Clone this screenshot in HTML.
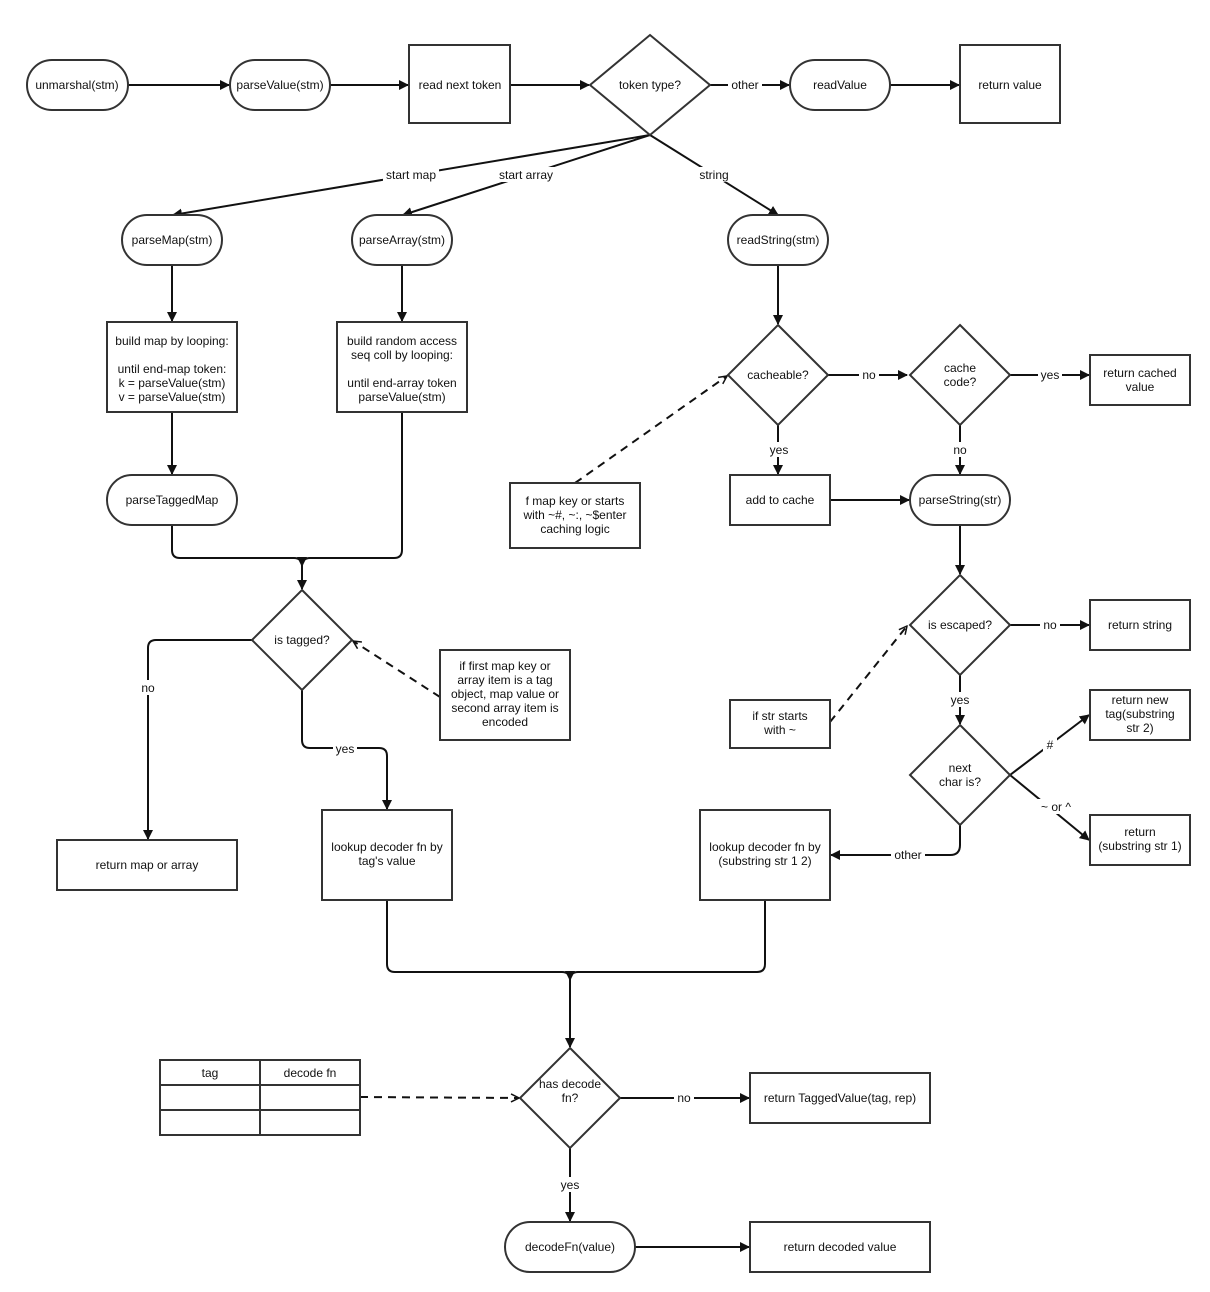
<!DOCTYPE html>
<html><head><meta charset="utf-8"><style>
html,body{margin:0;padding:0;background:#fff;}
svg{display:block;}
text{font-family:"Liberation Sans",Arial,sans-serif;font-size:12px;fill:#111;text-anchor:middle;}
.s{fill:#fff;stroke:#333;stroke-width:2;}
.l{fill:none;stroke:#111;stroke-width:2;}
.d{fill:none;stroke:#111;stroke-width:2;stroke-dasharray:8,6;}
.bg{fill:#fff;}
</style></head><body>
<svg width="1210" height="1292" viewBox="0 0 1210 1292" xmlns="http://www.w3.org/2000/svg">
<defs>
<marker id="a" markerWidth="10" markerHeight="10" refX="9" refY="5" orient="auto" markerUnits="userSpaceOnUse" viewBox="0 0 10 10"><path d="M0,0 L10,5 L0,10 z" fill="#111"/></marker>
<marker id="o" markerWidth="10" markerHeight="10" refX="9" refY="5" orient="auto" markerUnits="userSpaceOnUse" viewBox="0 0 10 10"><path d="M1,1 L9,5 L1,9" fill="none" stroke="#111" stroke-width="1.5"/></marker>
</defs>

<!-- edges -->
<g class="l" marker-end="url(#a)">
<path d="M128,85 H229"/>
<path d="M330,85 H408"/>
<path d="M510,85 H589"/>
<path d="M710,85 H789"/>
<path d="M890,85 H959"/>
<path d="M650,135 L173,215"/>
<path d="M650,135 L403,215"/>
<path d="M650,135 L778,215"/>
<path d="M778,265 V324"/>
<path d="M828,375 H907"/>
<path d="M1010,375 H1089"/>
<path d="M778,425 V474"/>
<path d="M960,425 V474"/>
<path d="M830,500 H909"/>
<path d="M960,525 V574"/>
<path d="M1010,625 H1089"/>
<path d="M960,675 V724"/>
<path d="M1010,775 L1089,715"/>
<path d="M1010,775 L1089,840"/>
<path d="M960,825 V845 Q960,855 950,855 H831"/>
<path d="M172,265 V321"/>
<path d="M402,265 V321"/>
<path d="M172,412 V474"/>
<path d="M172,525 V550 Q172,558 180,558 H294 Q302,558 302,566 V589"/>
<path d="M402,412 V550 Q402,558 394,558 H310 Q302,558 302,566"/>
<path d="M252,640 H156 Q148,640 148,648 V839"/>
<path d="M302,690 V740 Q302,748 310,748 H379 Q387,748 387,756 V809"/>
<path d="M387,900 V964 Q387,972 395,972 H562 Q570,972 570,980 V1047"/>
<path d="M765,900 V964 Q765,972 757,972 H578 Q570,972 570,980"/>
<path d="M620,1098 H749"/>
<path d="M570,1148 V1221"/>
<path d="M635,1247 H749"/>
</g>
<g class="d" marker-end="url(#o)">
<path d="M575,483 L727,376"/>
<path d="M830,722 L907,626"/>
<path d="M440,697 L353,641"/>
<path d="M360,1097 L519,1098"/>
</g>

<!-- edge labels -->
<g>
<rect class="bg" x="728" y="77" width="34" height="15"/><text x="745" y="89">other</text>
<rect class="bg" x="383" y="167" width="56" height="15"/><text x="411" y="179">start map</text>
<rect class="bg" x="496" y="167" width="60" height="15"/><text x="526" y="179">start array</text>
<rect class="bg" x="697" y="167" width="34" height="15"/><text x="714" y="179">string</text>
<rect class="bg" x="859" y="367" width="20" height="15"/><text x="869" y="379">no</text>
<rect class="bg" x="1038" y="367" width="24" height="15"/><text x="1050" y="379">yes</text>
<rect class="bg" x="767" y="442" width="24" height="15"/><text x="779" y="454">yes</text>
<rect class="bg" x="950" y="442" width="20" height="15"/><text x="960" y="454">no</text>
<rect class="bg" x="1040" y="617" width="20" height="15"/><text x="1050" y="629">no</text>
<rect class="bg" x="948" y="692" width="24" height="15"/><text x="960" y="704">yes</text>
<rect class="bg" x="1043" y="737" width="14" height="15"/><text x="1050" y="749">#</text>
<rect class="bg" x="1036" y="799" width="40" height="15"/><text x="1056" y="811">~ or ^</text>
<rect class="bg" x="891" y="847" width="34" height="15"/><text x="908" y="859">other</text>
<rect class="bg" x="138" y="680" width="20" height="15"/><text x="148" y="692">no</text>
<rect class="bg" x="333" y="741" width="24" height="15"/><text x="345" y="753">yes</text>
<rect class="bg" x="674" y="1090" width="20" height="15"/><text x="684" y="1102">no</text>
<rect class="bg" x="558" y="1177" width="24" height="15"/><text x="570" y="1189">yes</text>
</g>

<!-- nodes -->
<rect class="s" x="27" y="60" width="101" height="50" rx="25"/><text x="77" y="89">unmarshal(stm)</text>
<rect class="s" x="230" y="60" width="100" height="50" rx="25"/><text x="280" y="89">parseValue(stm)</text>
<rect class="s" x="409" y="45" width="101" height="78"/><text x="460" y="89">read next token</text>
<polygon class="s" points="650,35 710,85 650,135 590,85"/><text x="650" y="89">token type?</text>
<rect class="s" x="790" y="60" width="100" height="50" rx="25"/><text x="840" y="89">readValue</text>
<rect class="s" x="960" y="45" width="100" height="78"/><text x="1010" y="89">return value</text>

<rect class="s" x="122" y="215" width="100" height="50" rx="25"/><text x="172" y="244">parseMap(stm)</text>
<rect class="s" x="352" y="215" width="100" height="50" rx="25"/><text x="402" y="244">parseArray(stm)</text>
<rect class="s" x="728" y="215" width="100" height="50" rx="25"/><text x="778" y="244">readString(stm)</text>

<rect class="s" x="107" y="322" width="130" height="90"/>
<text x="172" y="345">build map by looping:</text><text x="172" y="373">until end-map token:</text><text x="172" y="387">k = parseValue(stm)</text><text x="172" y="401">v = parseValue(stm)</text>
<rect class="s" x="337" y="322" width="130" height="90"/>
<text x="402" y="345">build random access</text><text x="402" y="359">seq coll by looping:</text><text x="402" y="387">until end-array token</text><text x="402" y="401">parseValue(stm)</text>

<polygon class="s" points="778,325 828,375 778,425 728,375"/><text x="778" y="379">cacheable?</text>
<polygon class="s" points="960,325 1010,375 960,425 910,375"/><text x="960" y="372">cache</text><text x="960" y="386">code?</text>
<rect class="s" x="1090" y="355" width="100" height="50"/><text x="1140" y="377">return cached</text><text x="1140" y="391">value</text>

<rect class="s" x="107" y="475" width="130" height="50" rx="25"/><text x="172" y="504">parseTaggedMap</text>
<rect class="s" x="730" y="475" width="100" height="50"/><text x="780" y="504">add to cache</text>
<rect class="s" x="910" y="475" width="100" height="50" rx="25"/><text x="960" y="504">parseString(str)</text>
<rect class="s" x="510" y="483" width="130" height="65"/><text x="575" y="505">f map key or starts</text><text x="575" y="519">with ~#, ~:, ~$enter</text><text x="575" y="533">caching logic</text>

<polygon class="s" points="302,590 352,640 302,690 252,640"/><text x="302" y="644">is tagged?</text>
<polygon class="s" points="960,575 1010,625 960,675 910,625"/><text x="960" y="629">is escaped?</text>
<rect class="s" x="1090" y="600" width="100" height="50"/><text x="1140" y="629">return string</text>
<rect class="s" x="440" y="650" width="130" height="90"/><text x="505" y="670">if first map key or</text><text x="505" y="684">array item is a tag</text><text x="505" y="698">object, map value or</text><text x="505" y="712">second array item is</text><text x="505" y="726">encoded</text>
<rect class="s" x="730" y="700" width="100" height="48"/><text x="780" y="720">if str starts</text><text x="780" y="734">with ~</text>
<polygon class="s" points="960,725 1010,775 960,825 910,775"/><text x="960" y="772">next</text><text x="960" y="786">char is?</text>
<rect class="s" x="1090" y="690" width="100" height="50"/><text x="1140" y="704">return new</text><text x="1140" y="718">tag(substring</text><text x="1140" y="732">str 2)</text>
<rect class="s" x="1090" y="815" width="100" height="50"/><text x="1140" y="836">return</text><text x="1140" y="850">(substring str 1)</text>

<rect class="s" x="57" y="840" width="180" height="50"/><text x="147" y="869">return map or array</text>
<rect class="s" x="322" y="810" width="130" height="90"/><text x="387" y="851">lookup decoder fn by</text><text x="387" y="865">tag's value</text>
<rect class="s" x="700" y="810" width="130" height="90"/><text x="765" y="851">lookup decoder fn by</text><text x="765" y="865">(substring str 1 2)</text>

<polygon class="s" points="570,1048 620,1098 570,1148 520,1098"/><text x="570" y="1088">has decode</text><text x="570" y="1102">fn?</text>
<rect class="s" x="160" y="1060" width="200" height="75"/>
<path d="M160,1085 H360 M160,1110 H360 M260,1060 V1135" stroke="#333" stroke-width="2" fill="none"/>
<text x="210" y="1077">tag</text><text x="310" y="1077">decode fn</text>
<rect class="s" x="750" y="1073" width="180" height="50"/><text x="840" y="1102">return TaggedValue(tag, rep)</text>
<rect class="s" x="505" y="1222" width="130" height="50" rx="25"/><text x="570" y="1251">decodeFn(value)</text>
<rect class="s" x="750" y="1222" width="180" height="50"/><text x="840" y="1251">return decoded value</text>
</svg>
</body></html>
